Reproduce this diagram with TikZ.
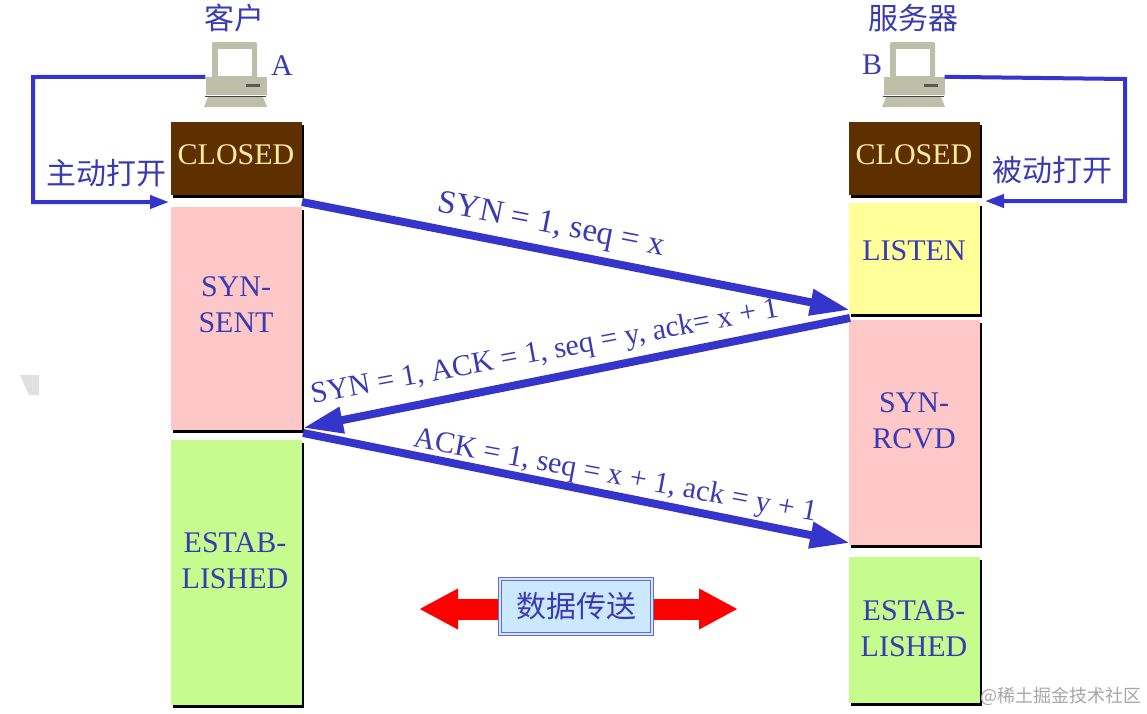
\documentclass[tikz,border=0pt]{standalone}
\usepackage{fontspec}
\setmainfont{Liberation Serif}
\newfontfamily\cjk{Noto Sans CJK SC}
\usetikzlibrary{arrows.meta,shadows}
\definecolor{inkblue}{HTML}{3A3AB4}
\definecolor{linkblue}{HTML}{3535CC}
\definecolor{closedbrown}{HTML}{5E3000}
\definecolor{closedtext}{HTML}{FFE9A0}
\definecolor{sentpink}{HTML}{FFC8C8}
\definecolor{estabgreen}{HTML}{C6FC8E}
\definecolor{listenyellow}{HTML}{FFFF99}
\definecolor{pcgrey}{HTML}{BDBFA8}
\definecolor{databack}{HTML}{CCE8FF}
\tikzset{
    statebox/.style={rectangle, minimum width=131, inner sep=0,
        drop shadow={shadow xshift=2.5pt, shadow yshift=-2.5pt, fill=black, opacity=1}},
    statetext/.style={inner sep=0, align=center, text=inkblue, font=\fontsize{30}{36}\selectfont},
    cjklabel/.style={text=inkblue, inner sep=0, font=\cjk\fontsize{30}{34}\selectfont},
    msglabel/.style={text=inkblue, inner sep=0, font=\fontsize{30}{34}\selectfont},
    loopline/.style={draw=linkblue, line width=4, -{Triangle[length=19,width=13]}},
    msgline/.style={draw=linkblue, line width=8, -{Triangle[length=40,width=25]}},
    dataline/.style={draw=red, line width=21, {Triangle[length=39,width=38]}-{Triangle[length=39,width=38]}},
    computer/.pic={
        \fill[pcgrey, rounded corners=2] (-24,0) rectangle (21,38);
        \fill[white] (-18,7) rectangle (16,34);
        \node (-body) [rectangle, fill=pcgrey, minimum width=61, minimum height=18, inner sep=0] at (0,44) {};
        \fill[black!65] (10,42) rectangle (24,44.5);
        \fill[black!75] (-31,53.5) rectangle (30,55);
        \fill[pcgrey] (-28,55) -- (27,55) -- (31,65) -- (-32,65) -- cycle;
    }
}
\begin{document}
\begin{tikzpicture}[x=1pt, y=-1pt]
    \useasboundingbox (0,0) rectangle (1147,713);

    % left column
    \node (closedA) [statebox, fill=closedbrown, minimum height=73] at (236,158.5) {};
    \node (sentA) [statebox, fill=sentpink, minimum height=223] at (236,318.5) {};
    \node (estabA) [statebox, fill=estabgreen, minimum height=265] at (236,572.5) {};
    \node (closedAtext) [statetext, text=closedtext] at (236,155) {CLOSED};
    \node (sentAtext) [statetext] at (236,305) {SYN-\\SENT};
    \node (estabAtext) [statetext] at (235,561) {ESTAB-\\LISHED};

    % right column
    \node (closedB) [statebox, fill=closedbrown, minimum height=73] at (914,158.5) {};
    \node (listenB) [statebox, fill=listenyellow, minimum height=111] at (914,258.5) {};
    \node (rcvdB) [statebox, fill=sentpink, minimum height=225] at (914,432.5) {};
    \node (estabB) [statebox, fill=estabgreen, minimum height=146] at (914,630) {};
    \node (closedBtext) [statetext, text=closedtext] at (914,155) {CLOSED};
    \node (listenBtext) [statetext] at (914,251) {LISTEN};
    \node (rcvdBtext) [statetext] at (914,421) {SYN-\\RCVD};
    \node (estabBtext) [statetext] at (914,629) {ESTAB-\\LISHED};

    % computers
    \pic (pcA) at (236,42) {computer};
    \pic (pcB) at (914,42) {computer};
    \node (clientlabel) [cjklabel] at (234,18) {客户};
    \node (serverlabel) [cjklabel] at (913,18) {服务器};
    \node (letterA) [statetext] at (282,66) {A};
    \node (letterB) [statetext] at (872,65) {B};

    % open loops
    \coordinate (loopA) at (33,77);
    \coordinate (openA) at (169,202);
    \coordinate (loopB) at (1125,79);
    \coordinate (openB) at (985,201);
    \draw[loopline] (pcA-body.north west) -- (loopA) |- (openA);
    \draw[loopline] (pcB-body.north east) -- (loopB) |- (openB);
    \node (activelabel) [cjklabel] at (106,173) {主动打开};
    \node (passivelabel) [cjklabel] at (1052,170) {被动打开};

    % handshake
    \coordinate (syn1) at (302,202);
    \coordinate (syn2) at (850,310);
    \coordinate (ack1) at (850,318);
    \coordinate (ack2) at (303,428);
    \coordinate (fin1) at (303,433);
    \coordinate (fin2) at (850,543);
    \draw[msgline] (syn1) -- (syn2);
    \draw[msgline] (ack1) -- (ack2);
    \draw[msgline] (fin1) -- (fin2);
    \node (synlabel) [msglabel, rotate=-11, font=\fontsize{33}{36}\selectfont] at (551,226) {SYN = 1, seq = x};
    \node (acklabel) [msglabel, rotate=10.5] at (545,353) {SYN = 1, ACK = 1, seq = y, ack= x + 1};
    \node (finlabel) [msglabel, rotate=-10.5] at (615,477) {ACK = 1, seq = x + 1, ack = y + 1};

    % data transfer
    \coordinate (dataleft) at (419,609);
    \coordinate (dataright) at (738,609);
    \draw[dataline] (dataleft) -- (dataright);
    \node (databox) [cjklabel, rectangle, fill=databack, draw=inkblue!75, line width=1.5, double=databack, double distance=1.5,
        minimum width=152, minimum height=55] at (576,606.5) {数据传送};

    % watermark and stray mark
    \node (watermark) [text=black!35, inner sep=0, font=\cjk\fontsize{18}{20}\selectfont] at (1061,696) {@稀土掘金技术社区};
    \fill[black!12] (20,375) -- (39,375) -- (39,395) -- (29,395) -- cycle;
\end{tikzpicture}
\end{document}
